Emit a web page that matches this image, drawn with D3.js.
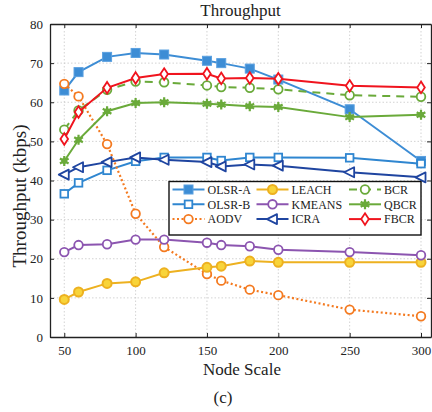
<!DOCTYPE html>
<html lang="en">
<head>
    <meta charset="UTF-8">
    <script src="https://d3js.org/d3.v7.min.js"></script>
    <title>Throughput</title>
    <style>
        body {
            margin: 0;
            padding: 0;
            background: #fff;
        }
    </style>
</head>
<body>
    <div id="chart"></div>
    <script>
        // data
        var nodeScale = [50, 60, 80, 100, 120, 150, 160, 180, 200, 250, 300];
        var xTicks = [50, 100, 150, 200, 250, 300];
        var yTicks = [0, 10, 20, 30, 40, 50, 60, 70, 80];

        var olsrA = [63.0, 67.7, 71.6, 72.6, 72.2, 70.6, 70.0, 68.6, 65.8, 58.2, 45.0];
        var olsrB = [36.6, 39.4, 42.6, 44.9, 45.9, 45.9, 45.1, 45.9, 45.9, 45.8, 44.3];
        var aodv = [64.7, 61.5, 49.3, 31.5, 23.0, 16.1, 14.4, 12.1, 10.7, 7.0, 5.3];
        var leach = [9.6, 11.5, 13.7, 14.1, 16.4, 17.8, 18.1, 19.4, 19.1, 19.1, 19.1];
        var kmeans = [21.7, 23.5, 23.7, 24.9, 24.9, 24.1, 23.5, 23.2, 22.3, 21.7, 20.9];
        var icra = [41.5, 43.4, 44.7, 45.9, 45.3, 44.7, 43.6, 44.1, 43.8, 42.1, 40.8];
        var bcr = [53.0, 57.9, 63.2, 65.3, 65.1, 64.3, 63.9, 63.7, 63.3, 61.8, 61.4];
        var qbcr = [45.0, 50.4, 57.7, 59.8, 60.0, 59.6, 59.4, 59.0, 58.8, 56.2, 56.8];
        var fbcr = [50.6, 57.5, 63.7, 66.2, 67.2, 67.3, 66.1, 66.2, 66.0, 64.2, 63.8];

        var series = [
            { name: "OLSR-A", values: olsrA, color: "#3d8dd5", marker: "squareFilled", dash: null },
            { name: "OLSR-B", values: olsrB, color: "#2f86d0", marker: "squareOpen", dash: null },
            { name: "AODV", values: aodv, color: "#f47a20", marker: "circleOpen", dash: "2,2.5" },
            { name: "LEACH", values: leach, color: "#edb120", marker: "circleFilled", dash: null },
            { name: "KMEANS", values: kmeans, color: "#8c55b0", marker: "circleOpen", dash: null },
            { name: "ICRA", values: icra, color: "#1f45a0", marker: "triLeft", dash: null },
            { name: "BCR", values: bcr, color: "#6aaa3a", marker: "circleOpen", dash: "8,6" },
            { name: "QBCR", values: qbcr, color: "#6aaa3a", marker: "star", dash: null },
            { name: "FBCR", values: fbcr, color: "#f0141e", marker: "diamond", dash: null }
        ];

        var FONT = "Liberation Serif, Times New Roman, DejaVu Serif, serif";

        var W = 432, H = 412;
        var margin = { top: 24, right: 1, bottom: 75, left: 50 };
        var width = W - margin.left - margin.right,
            height = H - margin.top - margin.bottom;

        var svg = d3.select("#chart")
            .append("svg")
            .attr("width", W)
            .attr("height", H)
            .attr("font-family", FONT);

        var g = svg.append("g")
            .attr("transform", "translate(" + margin.left + "," + margin.top + ")");

        var x = d3.scaleLinear().domain([40, 307]).range([0, width]);
        var y = d3.scaleLinear().domain([0, 80]).range([height, 0]);

        // grid
        g.append("g").selectAll("line")
            .data(xTicks)
            .enter().append("line")
            .attr("x1", function (d) { return x(d); })
            .attr("x2", function (d) { return x(d); })
            .attr("y1", 0).attr("y2", height)
            .attr("stroke", "#c8c8c8").attr("stroke-width", 0.8)
            .attr("stroke-dasharray", "1.5,2");
        g.append("g").selectAll("line")
            .data(yTicks.slice(1, -1))
            .enter().append("line")
            .attr("y1", function (d) { return y(d); })
            .attr("y2", function (d) { return y(d); })
            .attr("x1", 0).attr("x2", width)
            .attr("stroke", "#c8c8c8").attr("stroke-width", 0.8)
            .attr("stroke-dasharray", "1.5,2");

        // axes
        g.append("g")
            .attr("transform", "translate(0," + height + ")")
            .call(d3.axisBottom(x).tickValues(xTicks).tickSizeInner(-4).tickSizeOuter(0).tickPadding(9));
        g.append("g")
            .call(d3.axisLeft(y).tickValues(yTicks).tickSizeInner(-4).tickSizeOuter(0).tickPadding(7));
        g.append("g")
            .call(d3.axisTop(x).tickValues(xTicks).tickSizeInner(-4).tickSizeOuter(0).tickFormat(""));
        g.append("g")
            .attr("transform", "translate(" + width + ",0)")
            .call(d3.axisRight(y).tickValues(yTicks).tickSizeInner(-4).tickSizeOuter(0).tickFormat(""));
        g.selectAll(".domain").attr("stroke", "#222").attr("stroke-width", 1.3);
        g.selectAll(".tick line").attr("stroke", "#222");
        g.selectAll("g").attr("font-family", FONT);
        g.selectAll(".tick text")
            .attr("font-family", FONT)
            .attr("font-size", 13)
            .attr("fill", "#222");

        // markers
        function drawMarker(sel, type, color) {
            if (type === "squareFilled") {
                sel.append("rect").attr("x", -4.5).attr("y", -4.5).attr("width", 9).attr("height", 9)
                    .attr("fill", color).attr("stroke", "#5aa0e0").attr("stroke-width", 1);
            } else if (type === "squareOpen") {
                sel.append("rect").attr("x", -3.8).attr("y", -3.8).attr("width", 7.6).attr("height", 7.6)
                    .attr("fill", "#fff").attr("stroke", color).attr("stroke-width", 1.8);
            } else if (type === "circleOpen") {
                sel.append("circle").attr("r", 4.3)
                    .attr("fill", "#fff").attr("stroke", color).attr("stroke-width", 1.8);
            } else if (type === "circleFilled") {
                sel.append("circle").attr("r", 4.5)
                    .attr("fill", "#f8d43a").attr("stroke", color).attr("stroke-width", 2);
            } else if (type === "triLeft") {
                sel.append("path").attr("d", "M-5.5,0L4.5,-5L4.5,5Z")
                    .attr("fill", "#fff").attr("stroke", color).attr("stroke-width", 1.8)
                    .attr("stroke-linejoin", "round");
            } else if (type === "diamond") {
                sel.append("path").attr("d", "M0,-5.8L3.8,0L0,5.8L-3.8,0Z")
                    .attr("fill", "#fff").attr("stroke", color).attr("stroke-width", 1.8);
            } else if (type === "star") {
                sel.append("path").attr("d", d3.symbol().type(d3.symbolAsterisk).size(70)())
                    .attr("fill", "none").attr("stroke", color).attr("stroke-width", 2.2);
                sel.append("circle").attr("r", 3).attr("fill", color);
            }
        }

        var line = d3.line()
            .x(function (d, i) { return x(nodeScale[i]); })
            .y(function (d) { return y(d); });

        series.forEach(function (s) {
            var sg = g.append("g");
            sg.append("path")
                .datum(s.values)
                .attr("d", line)
                .attr("fill", "none")
                .attr("stroke", s.color)
                .attr("stroke-width", s.dash === "2,2.5" ? 2.2 : 2)
                .attr("stroke-dasharray", s.dash);
            sg.selectAll("g.pt")
                .data(s.values)
                .enter().append("g")
                .attr("class", "pt")
                .attr("transform", function (d, i) { return "translate(" + x(nodeScale[i]) + "," + y(d) + ")"; })
                .each(function () { drawMarker(d3.select(this), s.marker, s.color); });
        });

        // legend
        var leg = svg.append("g").attr("transform", "translate(169,181.5)");
        leg.append("rect")
            .attr("width", 252).attr("height", 53.5)
            .attr("fill", "#fff").attr("stroke", "#111").attr("stroke-width", 1.4);
        var colX = [3.5, 87.5, 180];
        series.forEach(function (s, i) {
            var col = Math.floor(i / 3), row = i % 3;
            var item = leg.append("g")
                .attr("transform", "translate(" + colX[col] + "," + (8 + row * 14.8) + ")");
            item.append("line")
                .attr("x1", 0).attr("x2", 32)
                .attr("stroke", s.color).attr("stroke-width", 2)
                .attr("stroke-dasharray", s.dash);
            var m = item.append("g").attr("transform", "translate(16,0)");
            drawMarker(m, s.marker, s.color);
            item.append("text")
                .attr("x", 35).attr("y", 4.3)
                .attr("font-family", FONT)
                .attr("font-size", 12)
                .attr("fill", "#222")
                .text(s.name);
        });

        // titles
        function label(xp, yp, txt, rot) {
            var t = svg.append("text")
                .attr("text-anchor", "middle")
                .attr("font-family", FONT)
                .attr("font-size", 16)
                .attr("fill", "#222")
                .text(txt);
            if (rot) t.attr("transform", "translate(" + xp + "," + yp + ") rotate(-90)");
            else t.attr("x", xp).attr("y", yp);
            return t;
        }
        label(margin.left + width / 2, 16, "Throughput").attr("font-size", 17);
        label(242, 375, "Node Scale").attr("font-size", 17);
        label(26, 196, "Throughput (kbps)", true).attr("font-size", 19);
        label(223, 403, "(c)").attr("font-size", 17);
    </script>
</body>
</html>
